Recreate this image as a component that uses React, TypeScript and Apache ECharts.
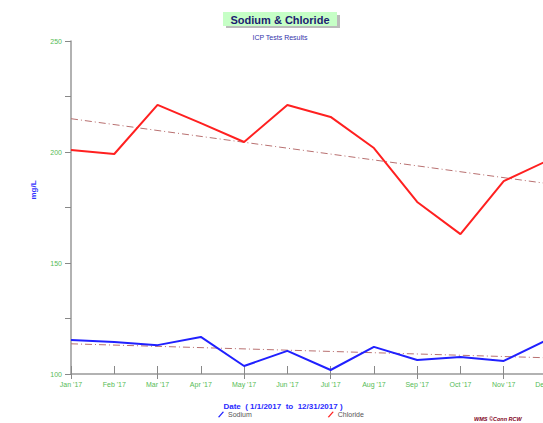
import React, { useEffect, useRef } from "react";
import * as echarts from "echarts";

const months = ["Jan '17", "Feb '17", "Mar '17", "Apr '17", "May '17", "Jun '17", "Jul '17", "Aug '17", "Sep '17", "Oct '17", "Nov '17", "Dec '17"];
const chloride = [200.9, 199.1, 221.2, 213.0, 204.5, 221.2, 215.8, 201.8, 177.5, 163.0, 186.9, 196.0];
const sodium = [115.3, 114.4, 113.0, 116.7, 103.6, 110.4, 101.8, 112.2, 106.3, 107.7, 105.9, 115.3];
const chlorideTrend = [215.0, 185.8];
const sodiumTrend = [113.6, 107.3];
const yLabels = [100, 150, 200, 250];

export default function App() {
  const ref = useRef<HTMLDivElement>(null);
  useEffect(() => {
    if (!ref.current) return;
    const chart = echarts.init(ref.current, null, { renderer: "svg" });
    const labelFont = { color: "#55bb55", fontSize: 7, fontFamily: "Liberation Sans, Arial, sans-serif" };
    const trendStyle = { color: "#b87070", width: 1, type: [7, 3, 1, 3] as any };
    chart.setOption({
      animation: false,
      backgroundColor: "#ffffff",
      grid: { left: 71, top: 41, width: 476, height: 333, containLabel: false },
      xAxis: [
        {
          type: "category",
          data: months,
          boundaryGap: false,
          axisLine: { lineStyle: { color: "#999999", width: 1.5 } },
          axisTick: { inside: true, length: 8, lineStyle: { color: "#888888" } },
          axisLabel: { ...labelFont, margin: 7, interval: 0 },
          splitLine: { show: false },
        },
        {
          type: "category",
          data: months,
          boundaryGap: false,
          position: "bottom",
          axisLine: { show: false },
          axisTick: { length: 5, lineStyle: { color: "#888888" } },
          axisLabel: { show: false },
          splitLine: { show: false },
        },
      ],
      yAxis: {
        type: "value",
        min: 100,
        max: 250,
        interval: 25,
        axisLine: { show: true, lineStyle: { color: "#999999", width: 1.5 } },
        axisTick: { show: true, length: 6, lineStyle: { color: "#888888" } },
        axisLabel: {
          ...labelFont,
          margin: 9,
          formatter: (v: number) => (yLabels.indexOf(v) >= 0 ? String(v) : ""),
        },
        splitLine: { show: false },
      },
      legend: {
        left: 218,
        top: 411,
        itemWidth: 6,
        itemHeight: 7,
        itemGap: 76,
        padding: 0,
        data: [
          { name: "Sodium", icon: "path://M0,9 L8,0 L10,1 L2,10 Z" },
          { name: "Chloride", icon: "path://M0,9 L8,0 L10,1 L2,10 Z" },
        ],
        textStyle: { color: "#555555", fontSize: 7, fontFamily: "Liberation Sans, Arial, sans-serif", padding: [0, 0, 0, -1] },
      },
      series: [
        {
          name: "Chloride Trend",
          type: "line",
          data: [[months[0], chlorideTrend[0]], [months[months.length - 1], chlorideTrend[1]]],
          symbol: "none",
          lineStyle: trendStyle,
          itemStyle: { color: "#b87070" },
          silent: true,
        },
        {
          name: "Sodium Trend",
          type: "line",
          data: [[months[0], sodiumTrend[0]], [months[months.length - 1], sodiumTrend[1]]],
          symbol: "none",
          lineStyle: trendStyle,
          itemStyle: { color: "#b87070" },
          silent: true,
        },
        {
          name: "Chloride",
          type: "line",
          data: chloride,
          symbol: "none",
          lineStyle: { color: "#ff2020", width: 2 },
          itemStyle: { color: "#ff2020" },
        },
        {
          name: "Sodium",
          type: "line",
          data: sodium,
          symbol: "none",
          lineStyle: { color: "#2020ff", width: 2 },
          itemStyle: { color: "#2020ff" },
        },
      ],
      graphic: [
        {
          type: "rect",
          shape: { x: 226, y: 15, width: 114, height: 13 },
          style: { fill: "#bbbbbb" },
        },
        {
          type: "rect",
          shape: { x: 223, y: 12, width: 114, height: 14 },
          style: { fill: "#c6ffc6" },
        },
        {
          type: "text",
          x: 280,
          y: 19.5,
          style: {
            text: "Sodium & Chloride",
            fill: "#1c1c70",
            font: "bold 11px 'Liberation Sans', Arial, sans-serif",
            align: "center",
            verticalAlign: "middle",
          },
        },
        {
          type: "text",
          x: 280,
          y: 37,
          style: {
            text: "ICP Tests Results",
            fill: "#3333aa",
            font: "7px 'Liberation Sans', Arial, sans-serif",
            align: "center",
            verticalAlign: "middle",
          },
        },
        {
          type: "text",
          x: 33,
          y: 190,
          rotation: Math.PI / 2,
          style: {
            text: "mg/L",
            fill: "#3333ff",
            font: "bold 8px 'Liberation Sans', Arial, sans-serif",
            align: "center",
            verticalAlign: "middle",
          },
        },
        {
          type: "text",
          x: 283,
          y: 406,
          style: {
            text: "Date  ( 1/1/2017  to  12/31/2017 )",
            fill: "#2a2aff",
            font: "bold 8px 'Liberation Sans', Arial, sans-serif",
            align: "center",
            verticalAlign: "middle",
          },
        },
        {
          type: "text",
          x: 474,
          y: 419,
          style: {
            text: "WMS ©Conn RCW",
            fill: "#800020",
            font: "italic bold 5.5px 'Liberation Sans', Arial, sans-serif",
            align: "left",
            verticalAlign: "middle",
          },
        },
      ],
    });
    return () => chart.dispose();
  }, []);
  return (
    <div style={{ position: "fixed", left: 0, top: 0, width: 543, height: 423, overflow: "hidden", background: "#fff" }}>
      <div ref={ref} style={{ width: 580, height: 423 }} />
    </div>
  );
}
